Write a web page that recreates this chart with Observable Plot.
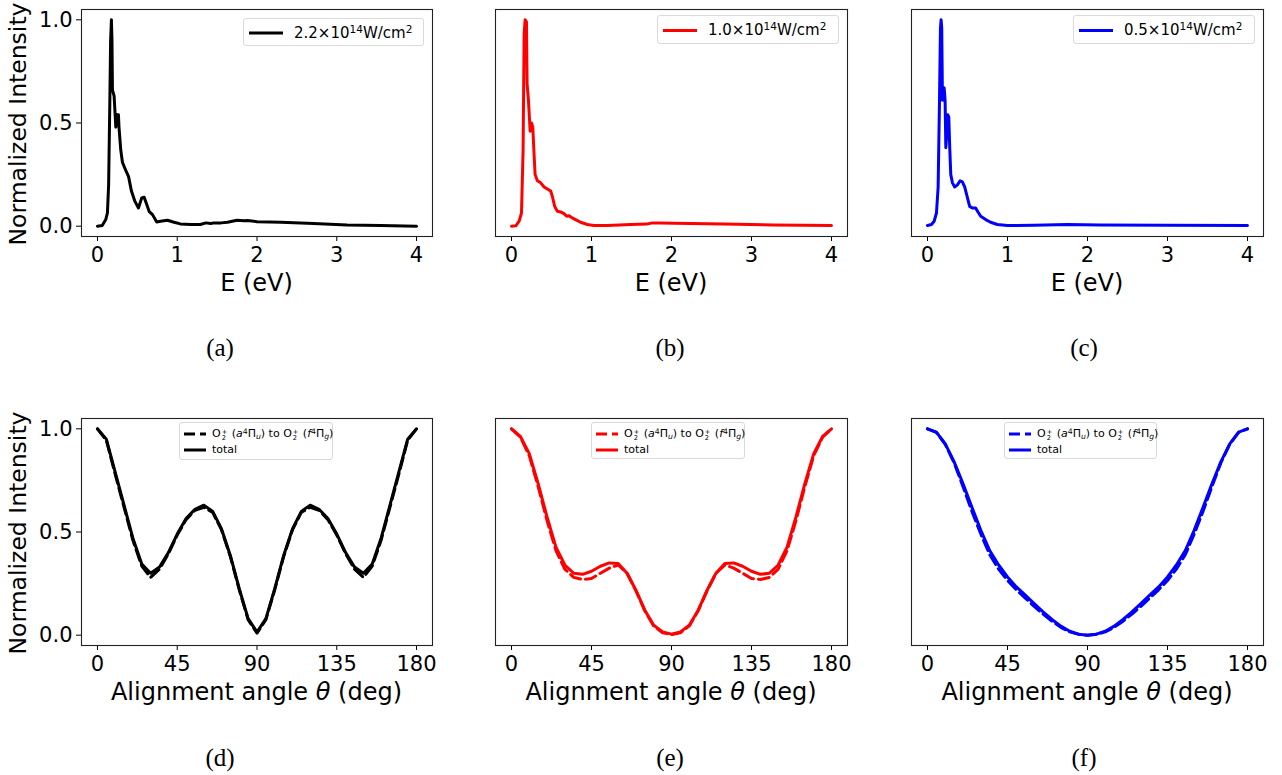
<!DOCTYPE html>
<html><head><meta charset="utf-8">
<script src="https://cdn.jsdelivr.net/npm/d3@7"></script>
<script src="https://cdn.jsdelivr.net/npm/@observablehq/plot@0.6"></script>
<style>
body{margin:0;background:#fff;}
#root{position:relative;width:1282px;height:775px;overflow:hidden;font-family:"DejaVu Sans",sans-serif;background:#fff;}
.lg{position:absolute;border:1px solid #d9d9d9;border-radius:3px;background:rgba(255,255,255,0.85);box-sizing:border-box;}
.lg svg{position:absolute;left:0;top:0;overflow:visible;}
.row{position:absolute;white-space:nowrap;color:#000;}
.sup{font-size:70%;position:relative;top:-0.45em;}
.sub{font-size:70%;position:relative;top:0.3em;}
.stk{display:inline-block;font-size:60%;line-height:1em;vertical-align:-0.45em;text-align:left;margin:0 1px;}
.it{font-style:italic;}
</style>
</head><body><div id="root"></div>
<script>
// ---------- Data ----------
const energyTicks = [0, 1, 2, 3, 4];
const angleTicks = [0, 45, 90, 135, 180];
const intensityTicks = [0, 0.5, 1.0];

// (a) 2.2e14 W/cm2
const energyA = [0, 0.06, 0.104, 0.125, 0.14, 0.155, 0.165, 0.175, 0.182, 0.188, 0.209, 0.23, 0.242, 0.263, 0.27, 0.292, 0.313, 0.355, 0.39, 0.426, 0.47, 0.514, 0.555, 0.585, 0.618, 0.647, 0.69, 0.743, 0.79, 0.877, 0.96, 1.04, 1.17, 1.29, 1.36, 1.42, 1.46, 1.55, 1.63, 1.75, 1.84, 1.88, 2.0, 2.3, 2.71, 3.13, 3.55, 4.0];
const intensityA = [0, 0.003, 0.032, 0.064, 0.2, 0.6, 0.9, 1.0, 0.9, 0.66, 0.63, 0.48, 0.54, 0.54, 0.48, 0.37, 0.31, 0.27, 0.24, 0.17, 0.12, 0.088, 0.137, 0.14, 0.105, 0.072, 0.056, 0.02, 0.024, 0.029, 0.019, 0.011, 0.008, 0.008, 0.016, 0.013, 0.016, 0.016, 0.019, 0.029, 0.026, 0.027, 0.022, 0.019, 0.013, 0.006, 0.003, 0.0];
// (b) 1.0e14 W/cm2
const energyB = [0, 0.054, 0.095, 0.125, 0.145, 0.158, 0.17, 0.187, 0.195, 0.212, 0.233, 0.25, 0.266, 0.282, 0.295, 0.324, 0.365, 0.407, 0.449, 0.49, 0.51, 0.54, 0.573, 0.615, 0.656, 0.69, 0.719, 0.76, 0.8, 0.864, 0.947, 1.03, 1.2, 1.49, 1.69, 1.76, 1.86, 2.03, 2.65, 3.27, 4.0];
const intensityB = [0, 0.002, 0.024, 0.064, 0.37, 0.93, 1.0, 0.99, 0.69, 0.61, 0.46, 0.5, 0.48, 0.35, 0.25, 0.22, 0.21, 0.19, 0.18, 0.17, 0.145, 0.096, 0.072, 0.069, 0.061, 0.048, 0.051, 0.04, 0.032, 0.019, 0.008, 0.003, 0.003, 0.008, 0.01, 0.016, 0.016, 0.014, 0.011, 0.006, 0.003];
// (c) 0.5e14 W/cm2
const energyC = [0, 0.05, 0.083, 0.112, 0.133, 0.15, 0.162, 0.17, 0.178, 0.187, 0.195, 0.208, 0.22, 0.229, 0.241, 0.253, 0.266, 0.278, 0.291, 0.312, 0.34, 0.374, 0.407, 0.436, 0.465, 0.498, 0.527, 0.56, 0.602, 0.631, 0.665, 0.727, 0.789, 0.872, 0.997, 1.33, 1.745, 2.16, 2.99, 4.0];
const intensityC = [0.003, 0.008, 0.024, 0.064, 0.19, 0.61, 0.96, 1.0, 0.96, 0.61, 0.66, 0.67, 0.61, 0.38, 0.45, 0.54, 0.53, 0.38, 0.25, 0.21, 0.19, 0.2, 0.22, 0.215, 0.19, 0.14, 0.096, 0.088, 0.088, 0.069, 0.048, 0.032, 0.019, 0.008, 0.003, 0.005, 0.008, 0.006, 0.005, 0.003];

// Angular distributions, 0..180 deg in 5 deg steps
const angles = [0, 5, 10, 15, 20, 25, 30, 35, 40, 45, 50, 55, 60, 65, 70, 75, 80, 85, 90, 95, 100, 105, 110, 115, 120, 125, 130, 135, 140, 145, 150, 155, 160, 165, 170, 175, 180];
const totalD  = [1.0, 0.95, 0.79, 0.63, 0.47, 0.345, 0.30, 0.33, 0.40, 0.49, 0.565, 0.61, 0.63, 0.60, 0.515, 0.385, 0.225, 0.08, 0.015, 0.08, 0.225, 0.385, 0.515, 0.60, 0.63, 0.61, 0.565, 0.49, 0.40, 0.33, 0.30, 0.345, 0.47, 0.63, 0.79, 0.95, 1.0];
const channelD = [1.0, 0.945, 0.78, 0.62, 0.46, 0.335, 0.28, 0.32, 0.395, 0.485, 0.56, 0.605, 0.62, 0.595, 0.51, 0.38, 0.22, 0.075, 0.01, 0.075, 0.22, 0.38, 0.51, 0.595, 0.62, 0.605, 0.56, 0.485, 0.395, 0.32, 0.28, 0.335, 0.46, 0.62, 0.78, 0.945, 1.0];
const totalE  = [1.0, 0.963, 0.88, 0.734, 0.573, 0.427, 0.34, 0.30, 0.295, 0.31, 0.334, 0.35, 0.347, 0.30, 0.218, 0.121, 0.048, 0.016, 0.005, 0.016, 0.048, 0.121, 0.218, 0.30, 0.347, 0.35, 0.334, 0.31, 0.295, 0.30, 0.34, 0.427, 0.573, 0.734, 0.88, 0.963, 1.0];
const channelE = [1.0, 0.96, 0.87, 0.72, 0.555, 0.41, 0.32, 0.28, 0.27, 0.275, 0.30, 0.325, 0.34, 0.30, 0.215, 0.118, 0.045, 0.012, 0.003, 0.012, 0.045, 0.118, 0.215, 0.30, 0.34, 0.325, 0.30, 0.275, 0.27, 0.28, 0.32, 0.41, 0.555, 0.72, 0.87, 0.96, 1.0];
const totalF  = [1.0, 0.984, 0.927, 0.84, 0.734, 0.62, 0.508, 0.41, 0.34, 0.282, 0.234, 0.194, 0.153, 0.113, 0.076, 0.044, 0.019, 0.005, 0.0, 0.005, 0.019, 0.044, 0.076, 0.113, 0.153, 0.194, 0.234, 0.282, 0.34, 0.41, 0.508, 0.62, 0.734, 0.84, 0.927, 0.984, 1.0];
const channelF = [1.0, 0.983, 0.925, 0.835, 0.72, 0.6, 0.49, 0.39, 0.32, 0.265, 0.22, 0.18, 0.14, 0.102, 0.068, 0.038, 0.016, 0.004, 0.0, 0.004, 0.016, 0.038, 0.068, 0.102, 0.14, 0.18, 0.22, 0.265, 0.32, 0.39, 0.49, 0.6, 0.72, 0.835, 0.925, 0.983, 1.0];

const intensityLabels = ["2.2×10<span class='sup'>14</span>W/cm<span class='sup'>2</span>",
                         "1.0×10<span class='sup'>14</span>W/cm<span class='sup'>2</span>",
                         "0.5×10<span class='sup'>14</span>W/cm<span class='sup'>2</span>"];
const colors = ["#000000", "#ff0000", "#0000ff"];
const captionsTop = ["(a)", "(b)", "(c)"];
const captionsBottom = ["(d)", "(e)", "(f)"];

// ---------- Layout ----------
const root = document.getElementById("root");
const cols = [[81, 432], [495, 847], [911, 1263]];
const rows = [[9, 236], [418, 645]];
const ML = 80, MR = 10, MT = 10, MB = 85;

function zip(xs, ys) { return xs.map((x, i) => ({x, y: ys[i]})); }

function panel(ci, ri, xDomain, xTicks, marks) {
  const [l, r] = cols[ci], [t, b] = rows[ri];
  const svg = Plot.plot({
    width: ML + (r - l) + MR, height: MT + (b - t) + MB,
    marginLeft: ML, marginRight: MR, marginTop: MT, marginBottom: MB,
    style: {fontFamily: "DejaVu Sans", fontSize: "21px", color: "#000", background: "transparent", overflow: "visible"},
    x: {domain: xDomain, ticks: xTicks, tickFormat: d => String(d), tickSize: 5, tickPadding: 6, label: null},
    y: {domain: [-0.05, 1.05], ticks: intensityTicks, tickFormat: d3.format(".1f"), tickSize: 5, tickPadding: 4, label: null, axis: ci === 0 ? "left" : null},
    marks: [Plot.frame({stroke: "#222", strokeWidth: 1.1}), ...marks]
  });
  svg.style.position = "absolute";
  svg.style.left = (l - ML) + "px";
  svg.style.top = (t - MT) + "px";
  root.appendChild(svg);
}

const spectra = [[energyA, intensityA], [energyB, intensityB], [energyC, intensityC]];
spectra.forEach(([E, I], i) => {
  panel(i, 0, [-0.2, 4.2], energyTicks, [
    Plot.line(zip(E, I), {x: "x", y: "y", stroke: colors[i], strokeWidth: 3, strokeLinejoin: "round"})
  ]);
});
const angular = [[channelD, totalD], [channelE, totalE], [channelF, totalF]];
angular.forEach(([ch, tot], i) => {
  panel(i, 1, [-9, 189], angleTicks, [
    Plot.line(zip(angles, ch), {x: "x", y: "y", stroke: colors[i], strokeWidth: 3, strokeDasharray: "11,5"}),
    Plot.line(zip(angles, tot), {x: "x", y: "y", stroke: colors[i], strokeWidth: 3, strokeLinejoin: "round"})
  ]);
});

// ---------- Labels & captions ----------
const NS = "http://www.w3.org/2000/svg";
const ov = document.createElementNS(NS, "svg");
ov.setAttribute("width", 1282); ov.setAttribute("height", 775);
ov.style.cssText = "position:absolute;left:0;top:0;pointer-events:none;overflow:visible";
function txt(x, y, s, opts = {}) {
  const e = document.createElementNS(NS, "text");
  e.setAttribute("x", x); e.setAttribute("y", y);
  e.setAttribute("text-anchor", "middle");
  e.setAttribute("font-family", opts.family || "DejaVu Sans");
  e.setAttribute("font-size", opts.size || 24);
  if (opts.baseline) e.setAttribute("dominant-baseline", opts.baseline);
  if (opts.transform) e.setAttribute("transform", opts.transform);
  e.innerHTML = s;
  ov.appendChild(e);
}
rows.forEach(([t, b], ri) => {
  const cy = (t + b) / 2 + 1.5;
  txt(0, 0, "Normalized Intensity", {size: 23.5, baseline: "central", transform: `translate(18,${cy}) rotate(-90)`});
});
const capX = [220, 670, 1084];
cols.forEach(([l, r], ci) => {
  const cx = (l + r) / 2;
  txt(cx, 291, "E (eV)");
  txt(cx, 700, "Alignment angle <tspan font-style='italic'>θ</tspan> (deg)");
  txt(capX[ci], 347, captionsTop[ci], {family: "Liberation Serif", size: 25, baseline: "central"});
  txt(capX[ci], 757, captionsBottom[ci], {family: "Liberation Serif", size: 25, baseline: "central"});
});
root.appendChild(ov);

// ---------- Legends ----------
function legend(x, y, w, h, items, fontSize, textX) {
  const d = document.createElement("div");
  d.className = "lg";
  d.style.cssText += `left:${x}px;top:${y}px;width:${w}px;height:${h}px;font-size:${fontSize}px;`;
  let svgs = `<svg width="${w}" height="${h}">`;
  items.forEach(it => {
    svgs += `<line x1="${it.x1}" x2="${it.x2}" y1="${it.y}" y2="${it.y}" stroke="${it.color}" stroke-width="3" ${it.dash ? `stroke-dasharray="${it.dash}"` : ""}/>`;
  });
  svgs += `</svg>`;
  let html = svgs;
  items.forEach(it => {
    html += `<div class="row" style="left:${textX}px;top:${it.y - fontSize * 0.62}px;line-height:${fontSize * 1.24}px">${it.label}</div>`;
  });
  d.innerHTML = html;
  root.appendChild(d);
}
const topLegends = [[243, 18, 181, 28], [657, 15, 182, 29], [1073, 15, 182, 29]];
topLegends.forEach(([x, y, w, h], i) => {
  legend(x, y, w, h, [{x1: 5, x2: 39, y: h / 2, color: colors[i], label: intensityLabels[i]}], 15, 50);
});
const ion = "O<span class='stk'>+<br>2</span>";
const channelLabel = `${ion} (<span class='it'>a</span><span class='sup'>4</span>Π<span class='sub it'>u</span>) to ${ion} (<span class='it'>f</span><span class='sup'>4</span>Π<span class='sub it'>g</span>)`;
const botLegends = [[179, 422, 154, 38], [591, 422, 154, 37], [1004, 422, 153, 37]];
botLegends.forEach(([x, y, w, h], i) => {
  legend(x, y, w, h, [
    {x1: 4, x2: 26, y: 11, color: colors[i], dash: "11,5", label: channelLabel},
    {x1: 4, x2: 26, y: 27, color: colors[i], label: "total"}
  ], 11, 32);
});
</script></body></html>
